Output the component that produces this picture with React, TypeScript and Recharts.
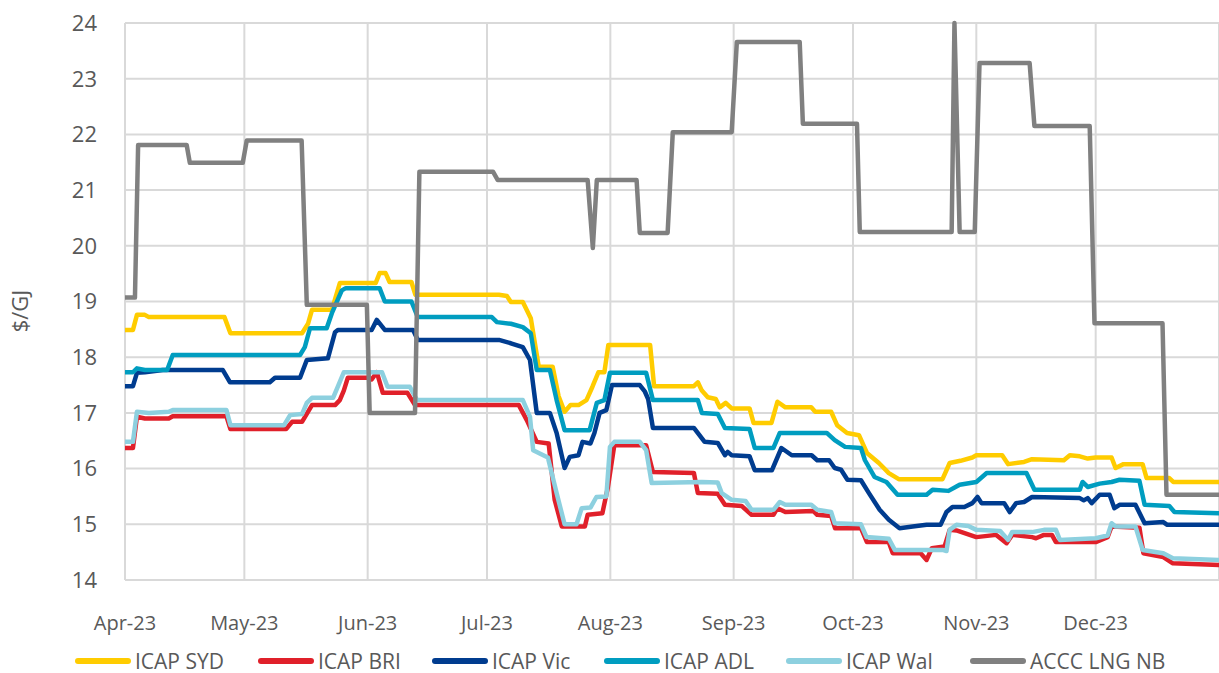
import { LineChart, Line, XAxis, YAxis, CartesianGrid } from "recharts";

// x = days since 1 Apr 2023, y = $/GJ
const monthTicks = [0, 30, 61, 91, 122, 153, 183, 214, 244];
const monthLabels = ["Apr-23", "May-23", "Jun-23", "Jul-23", "Aug-23", "Sep-23", "Oct-23", "Nov-23", "Dec-23"];
const priceTicks = [14, 15, 16, 17, 18, 19, 20, 21, 22, 23, 24];

const icapSyd = [
  [0, 18.49], [2, 18.49], [3, 18.76], [5, 18.76], [6, 18.72], [25, 18.72], [26.5, 18.43], [44.5, 18.43],
  [46, 18.6], [47, 18.85], [52, 18.85], [54, 19.33], [63, 19.33], [64, 19.51], [65.5, 19.51], [66.5, 19.35],
  [72, 19.35], [73, 19.12], [94, 19.12], [96, 19.1], [97, 18.99], [100, 18.99], [102, 18.7], [104, 17.83],
  [107.5, 17.83], [109, 17.3], [110.5, 17.02], [112, 17.14], [114, 17.14], [116, 17.23], [117.5, 17.47],
  [119, 17.73], [120.5, 17.73], [121.5, 18.22], [132, 18.22], [133, 17.48], [143, 17.48], [144, 17.55],
  [145, 17.4], [146.5, 17.28], [148.5, 17.25], [149.5, 17.1], [151, 17.18], [152.5, 17.08], [157, 17.08],
  [158, 16.82], [162.5, 16.82], [164, 17.2], [166, 17.1], [172.5, 17.1], [173.5, 17.02], [177.5, 17.02],
  [179, 16.78], [181.5, 16.64], [184.5, 16.6], [186.5, 16.28], [189.5, 16.1], [192, 15.92], [194.5, 15.81],
  [205.5, 15.81], [207.3, 16.1], [210, 16.14], [213, 16.2], [214, 16.24], [220.5, 16.24], [222, 16.08],
  [226, 16.12], [228, 16.17], [236, 16.15], [237.5, 16.24], [240, 16.22], [242, 16.18], [244, 16.2],
  [248, 16.2], [249, 16.01], [251, 16.08], [255.8, 16.08], [256.8, 15.83], [262.5, 15.83], [263.5, 15.76],
  [275, 15.76],
];

const icapBri = [
  [0, 16.37], [2, 16.37], [3, 16.93], [5, 16.9], [11, 16.9], [12, 16.94], [25.5, 16.94], [26.5, 16.71],
  [40.5, 16.71], [42, 16.84], [44.5, 16.84], [47, 17.14], [52.8, 17.14], [54, 17.23], [55, 17.4], [56, 17.63],
  [61, 17.63], [62, 17.6], [63.3, 17.73], [64.8, 17.36], [71, 17.36], [72.9, 17.14], [99, 17.14], [101, 16.87],
  [103.5, 16.48], [106.5, 16.45], [108, 15.44], [109.8, 14.96], [115.6, 14.96], [116.3, 15.17], [120, 15.2],
  [121.4, 15.67], [123, 16.42], [131, 16.42], [132.7, 15.94], [143, 15.92], [144, 15.56], [149, 15.55],
  [150.8, 15.35], [155, 15.33], [157.5, 15.17], [163, 15.17], [164, 15.29], [166, 15.22], [173, 15.24],
  [174, 15.17], [177.5, 15.15], [178.5, 14.93], [185, 14.93], [186.5, 14.68], [192, 14.68], [193, 14.48],
  [200, 14.48], [201.5, 14.36], [202.8, 14.57], [206, 14.6], [207.3, 14.9], [209, 14.89], [214, 14.77],
  [219, 14.81], [221.6, 14.66], [223, 14.81], [228, 14.77], [229, 14.75], [231, 14.81], [233, 14.81],
  [234, 14.68], [244, 14.68], [247, 14.77], [248, 14.96], [255, 14.94], [256, 14.48], [261, 14.41],
  [263.4, 14.3], [275, 14.27],
];

const icapVic = [
  [0, 17.48], [2, 17.48], [3, 17.72], [5, 17.73], [9.5, 17.77], [24.6, 17.77], [26.4, 17.55], [36.4, 17.55],
  [37.7, 17.63], [44, 17.63], [45.7, 17.95], [51, 17.98], [52.8, 18.45], [53.5, 18.49], [62, 18.49],
  [63.3, 18.67], [65.3, 18.49], [72.4, 18.49], [73.6, 18.31], [94, 18.31], [97, 18.25], [100, 18.18],
  [101.8, 17.95], [103.5, 17.0], [106.8, 17.0], [108.5, 16.64], [110.5, 16.01], [111.8, 16.21], [114, 16.24],
  [115, 16.48], [117, 16.45], [118, 16.64], [119.3, 17.0], [121, 17.05], [122.4, 17.5], [129.4, 17.5],
  [130.7, 17.38], [131.5, 17.25], [132.7, 16.73], [143, 16.73], [145.7, 16.48], [149, 16.46], [150.8, 16.24],
  [151.5, 16.3], [152.5, 16.24], [157, 16.22], [158.3, 15.97], [162.6, 15.97], [165, 16.37], [167.6, 16.24],
  [172.6, 16.24], [174, 16.15], [177, 16.15], [178.4, 16.01], [180, 15.98], [181.6, 15.8], [185, 15.79],
  [187, 15.56], [189.7, 15.26], [192, 15.08], [194.7, 14.93], [198, 14.96], [201.5, 14.99], [205, 14.99],
  [206.5, 15.22], [208, 15.31], [211, 15.31], [213, 15.38], [214.3, 15.49], [215.3, 15.38], [221, 15.38],
  [222.4, 15.22], [224, 15.38], [226, 15.4], [228, 15.49], [240, 15.47], [241, 15.43], [242, 15.47],
  [243, 15.38], [245, 15.53], [247.5, 15.53], [248.7, 15.29], [250, 15.35], [254, 15.35], [256.3, 15.02],
  [261, 15.04], [262, 14.99], [275, 14.99],
];

const icapAdl = [
  [0, 17.73], [2, 17.73], [3, 17.8], [5, 17.77], [10.6, 17.77], [12, 18.04], [44, 18.04], [45.2, 18.18],
  [46.5, 18.52], [50.7, 18.52], [52, 18.79], [54.5, 19.2], [55.5, 19.24], [64, 19.24], [65.3, 19.0], [72, 19.0],
  [73.6, 18.72], [92.2, 18.72], [93.5, 18.63], [97, 18.6], [100, 18.54], [102, 18.43], [103.5, 17.77],
  [106.8, 17.77], [108.5, 17.23], [110.5, 16.69], [116.8, 16.69], [118.6, 17.18], [120.5, 17.23],
  [121.9, 17.72], [131, 17.72], [132.7, 17.23], [144, 17.23], [145, 17.0], [149, 16.98], [150.8, 16.73],
  [157, 16.71], [158.3, 16.37], [163, 16.37], [164.6, 16.64], [176.4, 16.64], [178.4, 16.51], [181, 16.39],
  [185, 16.37], [186, 16.15], [188.4, 15.85], [191.4, 15.76], [194.2, 15.53], [201.5, 15.53], [203, 15.62],
  [207, 15.6], [209.8, 15.71], [214, 15.76], [216.6, 15.92], [226.6, 15.92], [228.6, 15.62], [240, 15.62],
  [240.7, 15.76], [242, 15.67], [245, 15.73], [248, 15.76], [250, 15.8], [255, 15.78], [256.3, 15.35],
  [262.5, 15.33], [263.8, 15.22], [275, 15.2],
];

const icapWal = [
  [0, 16.48], [2, 16.48], [3, 17.02], [6, 17.0], [11, 17.02], [12, 17.05], [25.5, 17.05], [26.5, 16.78],
  [40, 16.78], [41.5, 16.96], [44.5, 16.98], [45.7, 17.18], [47, 17.27], [52.3, 17.27], [53.5, 17.47],
  [55, 17.73], [64.6, 17.73], [66, 17.47], [71.6, 17.47], [73.4, 17.23], [100, 17.23], [101.8, 16.93],
  [102.6, 16.33], [106.3, 16.2], [108.5, 15.56], [110.5, 15.0], [113.5, 15.0], [114.8, 15.29], [117, 15.3],
  [118.5, 15.49], [121, 15.5], [121.9, 16.39], [123, 16.48], [129.4, 16.48], [131, 16.33], [132.4, 15.74],
  [145, 15.76], [149, 15.75], [150, 15.56], [152.5, 15.44], [156, 15.42], [157.5, 15.26], [163, 15.26],
  [164.6, 15.4], [166, 15.35], [172.5, 15.35], [174, 15.26], [177.5, 15.22], [178.4, 15.02], [185, 15.0],
  [186.4, 14.77], [192, 14.74], [193.5, 14.54], [205.5, 14.54], [206.5, 14.52], [207.3, 14.9], [209, 14.99],
  [212, 14.97], [214, 14.9], [220, 14.88], [222, 14.72], [223, 14.86], [228, 14.86], [231, 14.9], [234, 14.9],
  [235, 14.72], [244, 14.75], [247, 14.8], [248, 15.02], [249, 14.96], [254, 14.96], [255.8, 14.54],
  [261, 14.48], [263.4, 14.39], [275, 14.36],
];

const acccLngNb = [
  [0, 19.07], [2.5, 19.07], [3.3, 21.81], [15.5, 21.81], [16.3, 21.49], [29.6, 21.49], [30.6, 21.89],
  [44.4, 21.89], [45.7, 18.94], [60.8, 18.94], [61.5, 17.0], [72.9, 17.0], [74, 21.33], [92.5, 21.33],
  [93.7, 21.18], [116.3, 21.18], [117.6, 19.96], [118.6, 21.18], [128.6, 21.18], [129.4, 20.23],
  [136.4, 20.23], [137.7, 22.04], [152.5, 22.04], [153.8, 23.66], [169.6, 23.66], [170.4, 22.19],
  [184, 22.19], [184.7, 20.25], [207.8, 20.25], [208.5, 24.0], [209.8, 20.25], [213.6, 20.25],
  [214.8, 23.28], [227.4, 23.28], [228.6, 22.15], [242.5, 22.15], [243.7, 18.61], [260.8, 18.61],
  [261.8, 15.53], [275, 15.53],
];

const series = [
  { name: "ICAP SYD", color: "#FFCC00", points: icapSyd },
  { name: "ICAP BRI", color: "#E0202A", points: icapBri },
  { name: "ICAP Vic", color: "#003C8F", points: icapVic },
  { name: "ICAP ADL", color: "#009DC0", points: icapAdl },
  { name: "ICAP Wal", color: "#8DD0DF", points: icapWal },
  { name: "ACCC LNG NB", color: "#808080", points: acccLngNb },
];

const legendWidths = [183, 174, 172, 182, 184, 240];

const FONT = "'Open Sans', Lato, sans-serif";
const TEXT = "#595959";

const toRows = (pts: number[][]) => pts.map(([d, v]) => ({ d, v }));

export default function App() {
  return (
    <div style={{ position: "absolute", left: 0, top: 0, width: 1219, height: 673, background: "#fff", fontFamily: FONT }}>
      <LineChart width={1219} height={673} margin={{ top: 23, right: 0, bottom: 33, left: 0 }}>
        <CartesianGrid stroke="#d9d9d9" strokeWidth={2} />
        <XAxis
          dataKey="d"
          type="number"
          domain={[0, 275]}
          allowDataOverflow
          ticks={monthTicks}
          interval={0}
          tickFormatter={(d: number) => monthLabels[monthTicks.indexOf(d)] ?? ""}
          axisLine={false}
          tickLine={false}
          tickMargin={30}
          height={60}
          tick={{ fill: TEXT, fontSize: 20, fontFamily: FONT }}
        />
        <YAxis
          type="number"
          domain={[14, 24]}
          ticks={priceTicks}
          interval={0}
          axisLine={false}
          tickLine={false}
          width={125}
          tickMargin={22}
          tick={{ fill: TEXT, fontSize: 22, fontFamily: FONT }}
          label={() => (
            <text x={28} y={311} transform="rotate(-90 28 311)" textAnchor="middle" fill={TEXT} fontSize={22} fontFamily={FONT}>
              $/GJ
            </text>
          )}
        />
        {series.map((s) => (
          <Line
            key={s.name}
            data={toRows(s.points)}
            dataKey="v"
            name={s.name}
            type="linear"
            stroke={s.color}
            strokeWidth={4.5}
            strokeLinejoin="round"
            strokeLinecap="round"
            dot={false}
            activeDot={false}
            isAnimationActive={false}
          />
        ))}
      </LineChart>
      <div style={{ position: "absolute", left: 75, top: 650, height: 22, display: "flex", alignItems: "center", lineHeight: "22px" }}>
        {series.map((s, i) => (
          <div key={s.name} style={{ width: legendWidths[i], display: "flex", alignItems: "center" }}>
            <span style={{ display: "inline-block", width: 56, height: 6, borderRadius: 3, background: s.color, marginRight: 4 }} />
            <span style={{ fontSize: 21, color: TEXT, whiteSpace: "nowrap" }}>{s.name}</span>
          </div>
        ))}
      </div>
    </div>
  );
}
